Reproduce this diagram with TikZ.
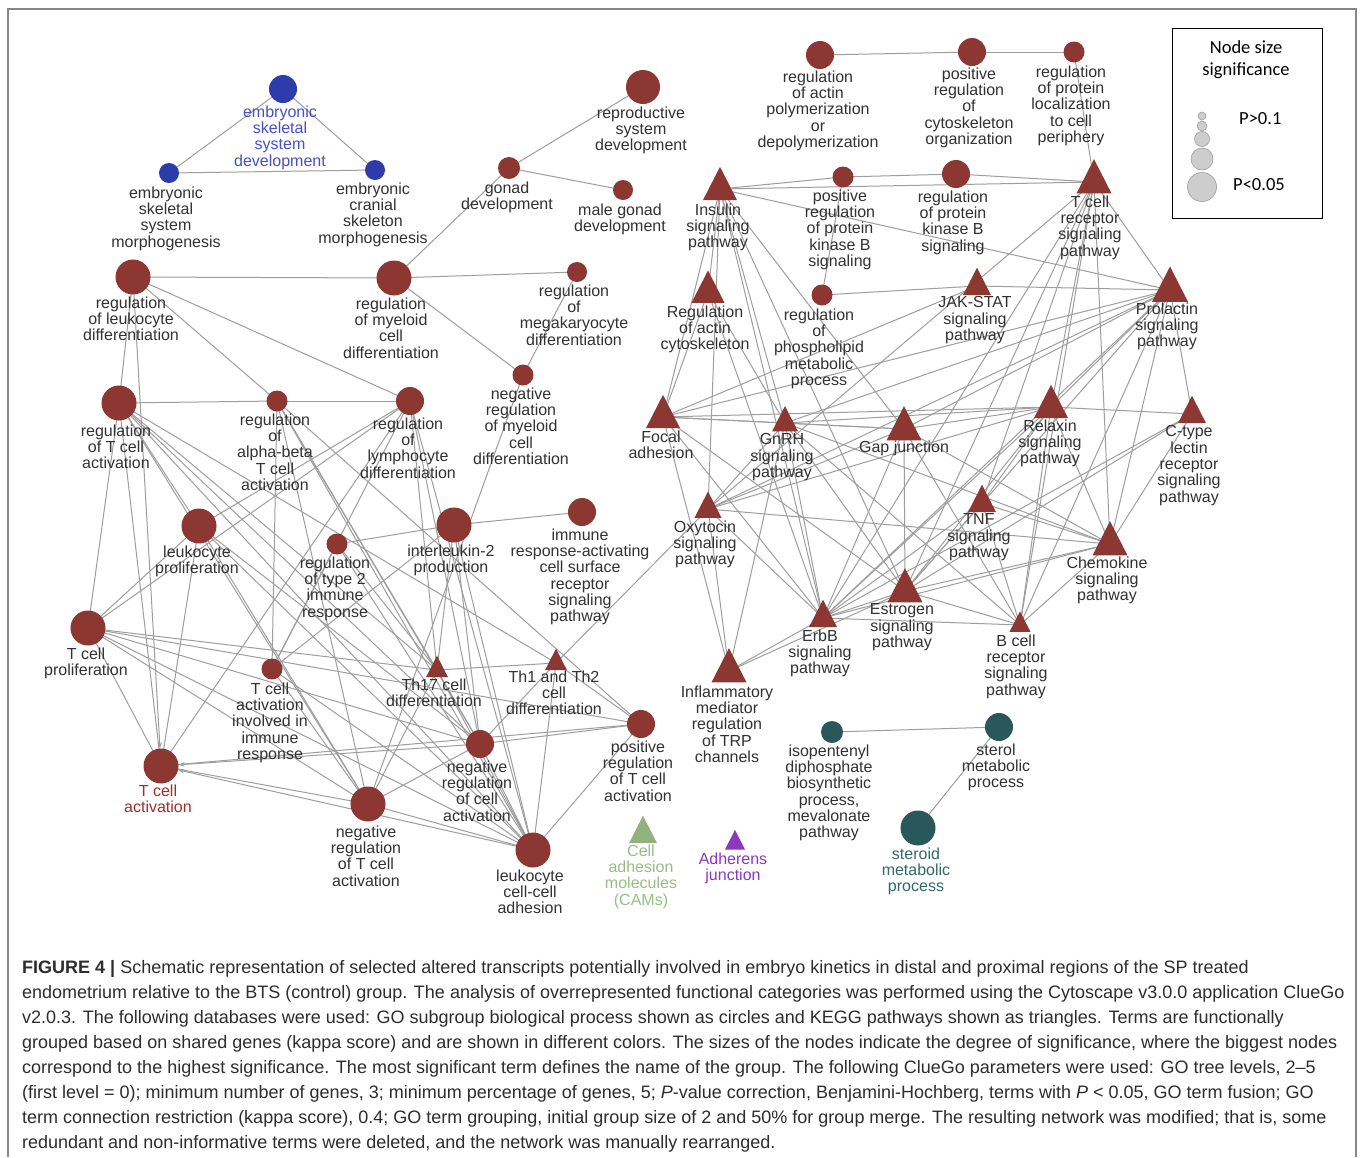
\documentclass[tikz,border=0pt]{standalone}
\usepackage{fontspec}
\setmainfont{Liberation Sans}
\newfontfamily\legfont{Carlito}
\usetikzlibrary{shapes.geometric,arrows.meta,backgrounds}
\pgfdeclarelayer{edgelayer}
\pgfsetlayers{background,edgelayer,main}
\definecolor{gored}{RGB}{140,55,50}
\definecolor{edgec}{RGB}{158,158,158}
\definecolor{lblc}{RGB}{50,50,50}
\definecolor{blu}{RGB}{45,60,170}
\definecolor{blul}{RGB}{70,80,200}
\definecolor{tealc}{RGB}{42,88,90}
\definecolor{teall}{RGB}{50,105,108}
\definecolor{greenc}{RGB}{145,178,125}
\definecolor{greenl}{RGB}{150,190,130}
\definecolor{purp}{RGB}{140,55,190}
\definecolor{redl}{RGB}{165,45,40}
\definecolor{framec}{RGB}{135,135,135}
\definecolor{capc}{RGB}{45,45,45}
\definecolor{legfill}{RGB}{205,205,205}
\tikzset{
  gc/.style={circle,inner sep=0pt,draw=none},
  kt/.style={regular polygon,regular polygon sides=3,inner sep=0pt,yscale=1.13,draw=none},
  lbl/.style={align=center,anchor=north,inner sep=0pt,text=lblc,font=\fontsize{16}{16.3}\selectfont},
  edge/.style={draw=edgec,line width=1pt},
  arr/.style={edge,-{Stealth[length=6pt,width=4.5pt]}},
  captext/.style={anchor=base west,inner sep=0pt,text=capc,font=\fontsize{18}{20}\selectfont},
  legc/.style={circle,inner sep=0pt,fill=legfill,draw=edgec,line width=0.6pt},
  legt/.style={inner sep=0pt,font=\legfont\fontsize{18.5}{22}\selectfont}
}
% optional label style, name, x, y, diameter, colour, label x, label y, text
\newcommand\GO[9][]{%
  \node[gc,minimum size=#5pt,fill=#6] (#2) at (#3,#4) {};
  \node[lbl,#1] (#2l) at (#7,{#8-6.5}) {#9};}
% optional label style, name, x, y, width, colour, label x, label y, text
\newcommand\KG[9][]{%
  \node[kt,minimum size={#5/0.866},fill=#6] (#2) at (#3,#4) {};
  \node[lbl,#1] (#2l) at (#7,{#8-6.5}) {#9};}
\begin{document}
\begin{tikzpicture}[x=1pt,y=-1pt]
\begin{pgfonlayer}{background}
\fill[white] (0,0) rectangle (1360,1157);
\end{pgfonlayer}
\useasboundingbox (0,0) rectangle (1360,1157);
\draw[framec,line width=1.5pt] (8,1157) -- (8,9) -- (1356,9) -- (1356,1157);

% ---------- blue group
\GO[text=blul]{essd}{283}{89}{28}{blu}{280}{112}{embryonic\\skeletal\\system\\development}
\GO{essm}{169}{173}{20}{blu}{166}{193}{embryonic\\skeletal\\system\\morphogenesis}
\GO{ecsm}{375}{170}{20}{blu}{373}{189}{embryonic\\cranial\\skeleton\\morphogenesis}

% ---------- red GO terms, left
\GO{rsd}{643}{87}{34}{gored}{641}{113}{reproductive\\system\\development}
\GO{gd}{509}{168}{22}{gored}{507}{188}{gonad\\development}
\GO{mgd}{623}{190}{20}{gored}{620}{210}{male gonad\\development}
\GO{rld}{133}{277}{35}{gored}{131}{303}{regulation\\of leukocyte\\differentiation}
\GO{rmcd}{394}{278}{35}{gored}{391}{304}{regulation\\of myeloid\\cell\\differentiation}
\GO{rmeg}{577}{272}{20}{gored}{574}{291}{regulation\\of\\megakaryocyte\\differentiation}
\GO{nrmcd}{523}{375}{21}{gored}{521}{394}{negative\\regulation\\of myeloid\\cell\\differentiation}
\GO{rtca}{119}{403}{35}{gored}{116}{431}{regulation\\of T cell\\activation}
\GO{rab}{277}{401}{21}{gored}{275}{420}{regulation\\of\\alpha-beta\\T cell\\activation}
\GO{rlymd}{410}{401}{28}{gored}{408}{424}{regulation\\of\\lymphocyte\\differentiation}
\GO{lp}{199}{526}{35}{gored}{197}{552}{leukocyte\\proliferation}
\GO{rt2}{337}{544}{21}{gored}{335}{563}{regulation\\of type 2\\immune\\response}
\GO{il2}{454}{525}{35}{gored}{451}{551}{interleukin-2\\production}
\GO{iras}{582}{512}{28}{gored}{580}{535}{immune\\response-activating\\cell surface\\receptor\\signaling\\pathway}
\GO{tcp}{88}{628}{35}{gored}{86}{654}{T cell\\proliferation}
\GO{tcair}{272}{669}{21}{gored}{270}{689}{T cell\\activation\\involved in\\immune\\response}
\KG{th17}{437}{670}{22}{gored}{434}{685}{Th17 cell\\differentiation}
\KG{th12}{556}{663}{22}{gored}{554}{677}{Th1 and Th2\\cell\\differentiation}
\GO{prtca}{641}{724}{28}{gored}{638}{747}{positive\\regulation\\of T cell\\activation}
\GO[text=redl]{tca}{161}{766}{35}{gored}{158}{791}{T cell\\activation}
\GO{nrca}{480}{744}{28}{gored}{477}{767}{negative\\regulation\\of cell\\activation}
\GO{nrtca}{368}{804}{35}{gored}{366}{832}{negative\\regulation\\of T cell\\activation}
\GO{lcca}{533}{850}{35}{gored}{530}{876}{leukocyte\\cell-cell\\adhesion}

% ---------- red group, right
\GO{rapd}{820}{55}{28}{gored}{818}{77}{regulation\\of actin\\polymerization\\or\\depolymerization}
\GO{prco}{972}{52}{28}{gored}{969}{74}{positive\\regulation\\of\\cytoskeleton\\organization}
\GO{rplcp}{1074}{52}{21}{gored}{1071}{72}{regulation\\of protein\\localization\\to cell\\periphery}
\KG{ins}{720}{189}{34}{gored}{718}{210}{Insulin\\signaling\\pathway}
\GO{ppkb}{843}{177}{21}{gored}{840}{196}{positive\\regulation\\of protein\\kinase B\\signaling}
\GO{rpkb}{956}{174}{28}{gored}{953}{197}{regulation\\of protein\\kinase B\\signaling}
\KG{tcr}{1094}{182}{35}{gored}{1090}{202}{T cell\\receptor\\signaling\\pathway}
\KG{rac}{708}{292}{33}{gored}{705}{312}{Regulation\\of actin\\cytoskeleton}
\GO{rpmp}{822}{295}{21}{gored}{819}{315}{regulation\\of\\phospholipid\\metabolic\\process}
\KG{jak}{977}{286}{28}{gored}{975}{303}{JAK-STAT\\signaling\\pathway}
\KG{prl}{1170}{290}{36}{gored}{1167}{309}{Prolactin\\signaling\\pathway}
\KG{foc}{663}{417}{34}{gored}{661}{437}{Focal\\adhesion}
\KG{gnrh}{785}{423}{26}{gored}{782}{440}{GnRH\\signaling\\pathway}
\KG{gap}{904}{429}{35}{gored}{904}{447}{Gap junction}
\KG{rlx}{1051}{407}{34}{gored}{1050}{426}{Relaxin\\signaling\\pathway}
\KG{ctl}{1192}{414}{28}{gored}{1189}{432}{C-type\\lectin\\receptor\\signaling\\pathway}
\KG{oxy}{708}{509}{27}{gored}{705}{527}{Oxytocin\\signaling\\pathway}
\KG{tnf}{982}{503}{28}{gored}{979}{520}{TNF\\signaling\\pathway}
\KG{chem}{1110}{544}{35}{gored}{1107}{563}{Chemokine\\signaling\\pathway}
\KG{erbb}{823}{618}{28}{gored}{820}{636}{ErbB\\signaling\\pathway}
\KG{estr}{905}{591}{35}{gored}{902}{610}{Estrogen\\signaling\\pathway}
\KG{bcr}{1020}{625}{21}{gored}{1016}{641}{B cell\\receptor\\signaling\\pathway}
\KG{infl}{729}{671}{35}{gored}{727}{692}{Inflammatory\\mediator\\regulation\\of TRP\\channels}

% ---------- single-term groups and teal group
\KG[text=greenl]{cams}{643}{834}{28}{greenc}{641}{851}{Cell\\adhesion\\molecules\\(CAMs)}
\KG[text=purp]{adh}{735}{843}{20}{purp}{733}{859}{Adherens\\junction}
\GO{iso}{832}{732}{22}{tealc}{829}{751}{isopentenyl\\diphosphate\\biosynthetic\\process,\\mevalonate\\pathway}
\GO{sterol}{999}{727}{28}{tealc}{996}{750}{sterol\\metabolic\\process}
\GO[text=teall]{steroid}{918}{828}{35}{tealc}{916}{854}{steroid\\metabolic\\process}

% ---------- connectors
\begin{pgfonlayer}{edgelayer}
\foreach \a/\b in {essd/essm,essd/ecsm,essm/ecsm,
  gd/rsd,gd/mgd,gd/rmcd,
  rld/rmcd,rmcd/rmeg,rmcd/nrmcd,rmeg/nrmcd,
  rld/rtca,rld/rab,rld/rlymd,rtca/rab,rab/rlymd,
  rtca/tcp,rtca/tca,rtca/lp,rtca/th17,rtca/nrca,rtca/lcca,rtca/nrtca,rtca/th12,
  rab/tcair,rab/nrtca,rab/th17,rab/nrca,rab/lcca,rab/prtca,
  rlymd/lp,rlymd/tca,rlymd/tcair,rlymd/th17,rlymd/nrca,rlymd/lcca,rlymd/tcp,
  nrmcd/nrtca,
  il2/iras,il2/rt2,il2/th17,il2/nrca,il2/lcca,il2/tcair,
  lp/tcp,lp/tca,lp/nrtca,lp/lcca,lp/nrca,
  rt2/tcair,rt2/th17,rt2/lcca,
  tcp/tca,tcp/th17,tcp/prtca,tcp/nrca,tcp/lcca,tcp/nrtca,
  tcair/nrtca,tcair/lcca,
  th17/th12,th17/nrca,th17/lcca,th17/nrtca,
  th12/prtca,th12/nrca,th12/oxy,th12/lcca,
  prtca/nrca,prtca/lcca,prtca/tca,
  nrca/nrtca,nrca/lcca,nrtca/lcca,nrtca/tca,
  rapd/prco,prco/rplcp,rplcp/tcr,
  ins/ppkb,ppkb/rpkb,rpkb/tcr,ins/tcr,ins/prl,
  ppkb/rpmp,rpmp/jak,jak/prl,
  ins/rac,ins/foc,ins/gnrh,ins/gap,ins/erbb,ins/estr,ins/oxy,
  rac/foc,rac/gnrh,rac/erbb,
  tcr/oxy,tcr/rlx,tcr/estr,tcr/erbb,tcr/bcr,tcr/chem,tcr/prl,tcr/tnf,
  prl/foc,prl/gnrh,prl/gap,prl/oxy,prl/erbb,prl/estr,prl/rlx,prl/ctl,prl/chem,prl/bcr,
  foc/rlx,foc/gnrh,foc/gap,foc/infl,foc/erbb,foc/estr,foc/jak,
  gnrh/gap,gnrh/rlx,gnrh/estr,gnrh/erbb,gnrh/oxy,gnrh/infl,gnrh/bcr,gnrh/chem,
  gap/estr,gap/erbb,gap/oxy,gap/rlx,gap/bcr,gap/chem,
  rlx/ctl,rlx/erbb,rlx/estr,rlx/oxy,rlx/bcr,rlx/chem,rlx/tnf,
  ctl/chem,ctl/erbb,ctl/estr,
  tnf/erbb,tnf/estr,tnf/bcr,tnf/chem,
  chem/erbb,chem/estr,chem/bcr,chem/oxy,
  erbb/estr,erbb/bcr,erbb/infl,erbb/oxy,
  estr/bcr,estr/infl,oxy/infl,
  iso/sterol,sterol/steroid}
  {\draw[edge] (\a.center) -- (\b.center);}
\draw[arr] (rld) -- (tca);
\draw[arr] (nrca) -- (tca);
\draw[arr] (lcca) -- (tca);
\end{pgfonlayer}

% ---------- legend
\node[draw=black,line width=0.8pt,minimum width=150pt,minimum height=190pt,anchor=north west,inner sep=0pt] (legbox) at (1172,28) {};
\node[legt] (legt1) at (1246,47) {Node size};
\node[legt] (legt2) at (1246,71) {significance};
\node[legc,minimum size=8pt] (lc1) at (1202,116) {};
\node[legc,minimum size=10pt] (lc2) at (1202,126) {};
\node[legc,minimum size=15pt] (lc3) at (1202,139) {};
\node[legc,minimum size=22pt] (lc4) at (1202,159) {};
\node[legc,minimum size=29pt] (lc5) at (1202,187) {};
\node[legt,anchor=west] (legp1) at (1239,119) {P>0.1};
\node[legt,anchor=west] (legp2) at (1233,185) {P<0.05};

% ---------- caption
\node[captext] (cap1) at (22,973) {\textbf{FIGURE 4 |} Schematic representation of selected altered transcripts potentially involved in embryo kinetics in distal and proximal regions of the SP treated};
\node[captext] (cap2) at (22,998) {endometrium relative to the BTS (control) group. The analysis of overrepresented functional categories was performed using the Cytoscape v3.0.0 application ClueGo};
\node[captext] (cap3) at (22,1023) {v2.0.3. The following databases were used: GO subgroup biological process shown as circles and KEGG pathways shown as triangles. Terms are functionally};
\node[captext] (cap4) at (22,1048) {grouped based on shared genes (kappa score) and are shown in different colors. The sizes of the nodes indicate the degree of significance, where the biggest nodes};
\node[captext] (cap5) at (22,1073) {correspond to the highest significance. The most significant term defines the name of the group. The following ClueGo parameters were used: GO tree levels, 2--5};
\node[captext] (cap6) at (22,1098) {(first level = 0); minimum number of genes, 3; minimum percentage of genes, 5; \textit{P}-value correction, Benjamini-Hochberg, terms with \textit{P} < 0.05, GO term fusion; GO};
\node[captext] (cap7) at (22,1123) {term connection restriction (kappa score), 0.4; GO term grouping, initial group size of 2 and 50\% for group merge. The resulting network was modified; that is, some};
\node[captext] (cap8) at (22,1148) {redundant and non-informative terms were deleted, and the network was manually rearranged.};
\end{tikzpicture}
\end{document}
